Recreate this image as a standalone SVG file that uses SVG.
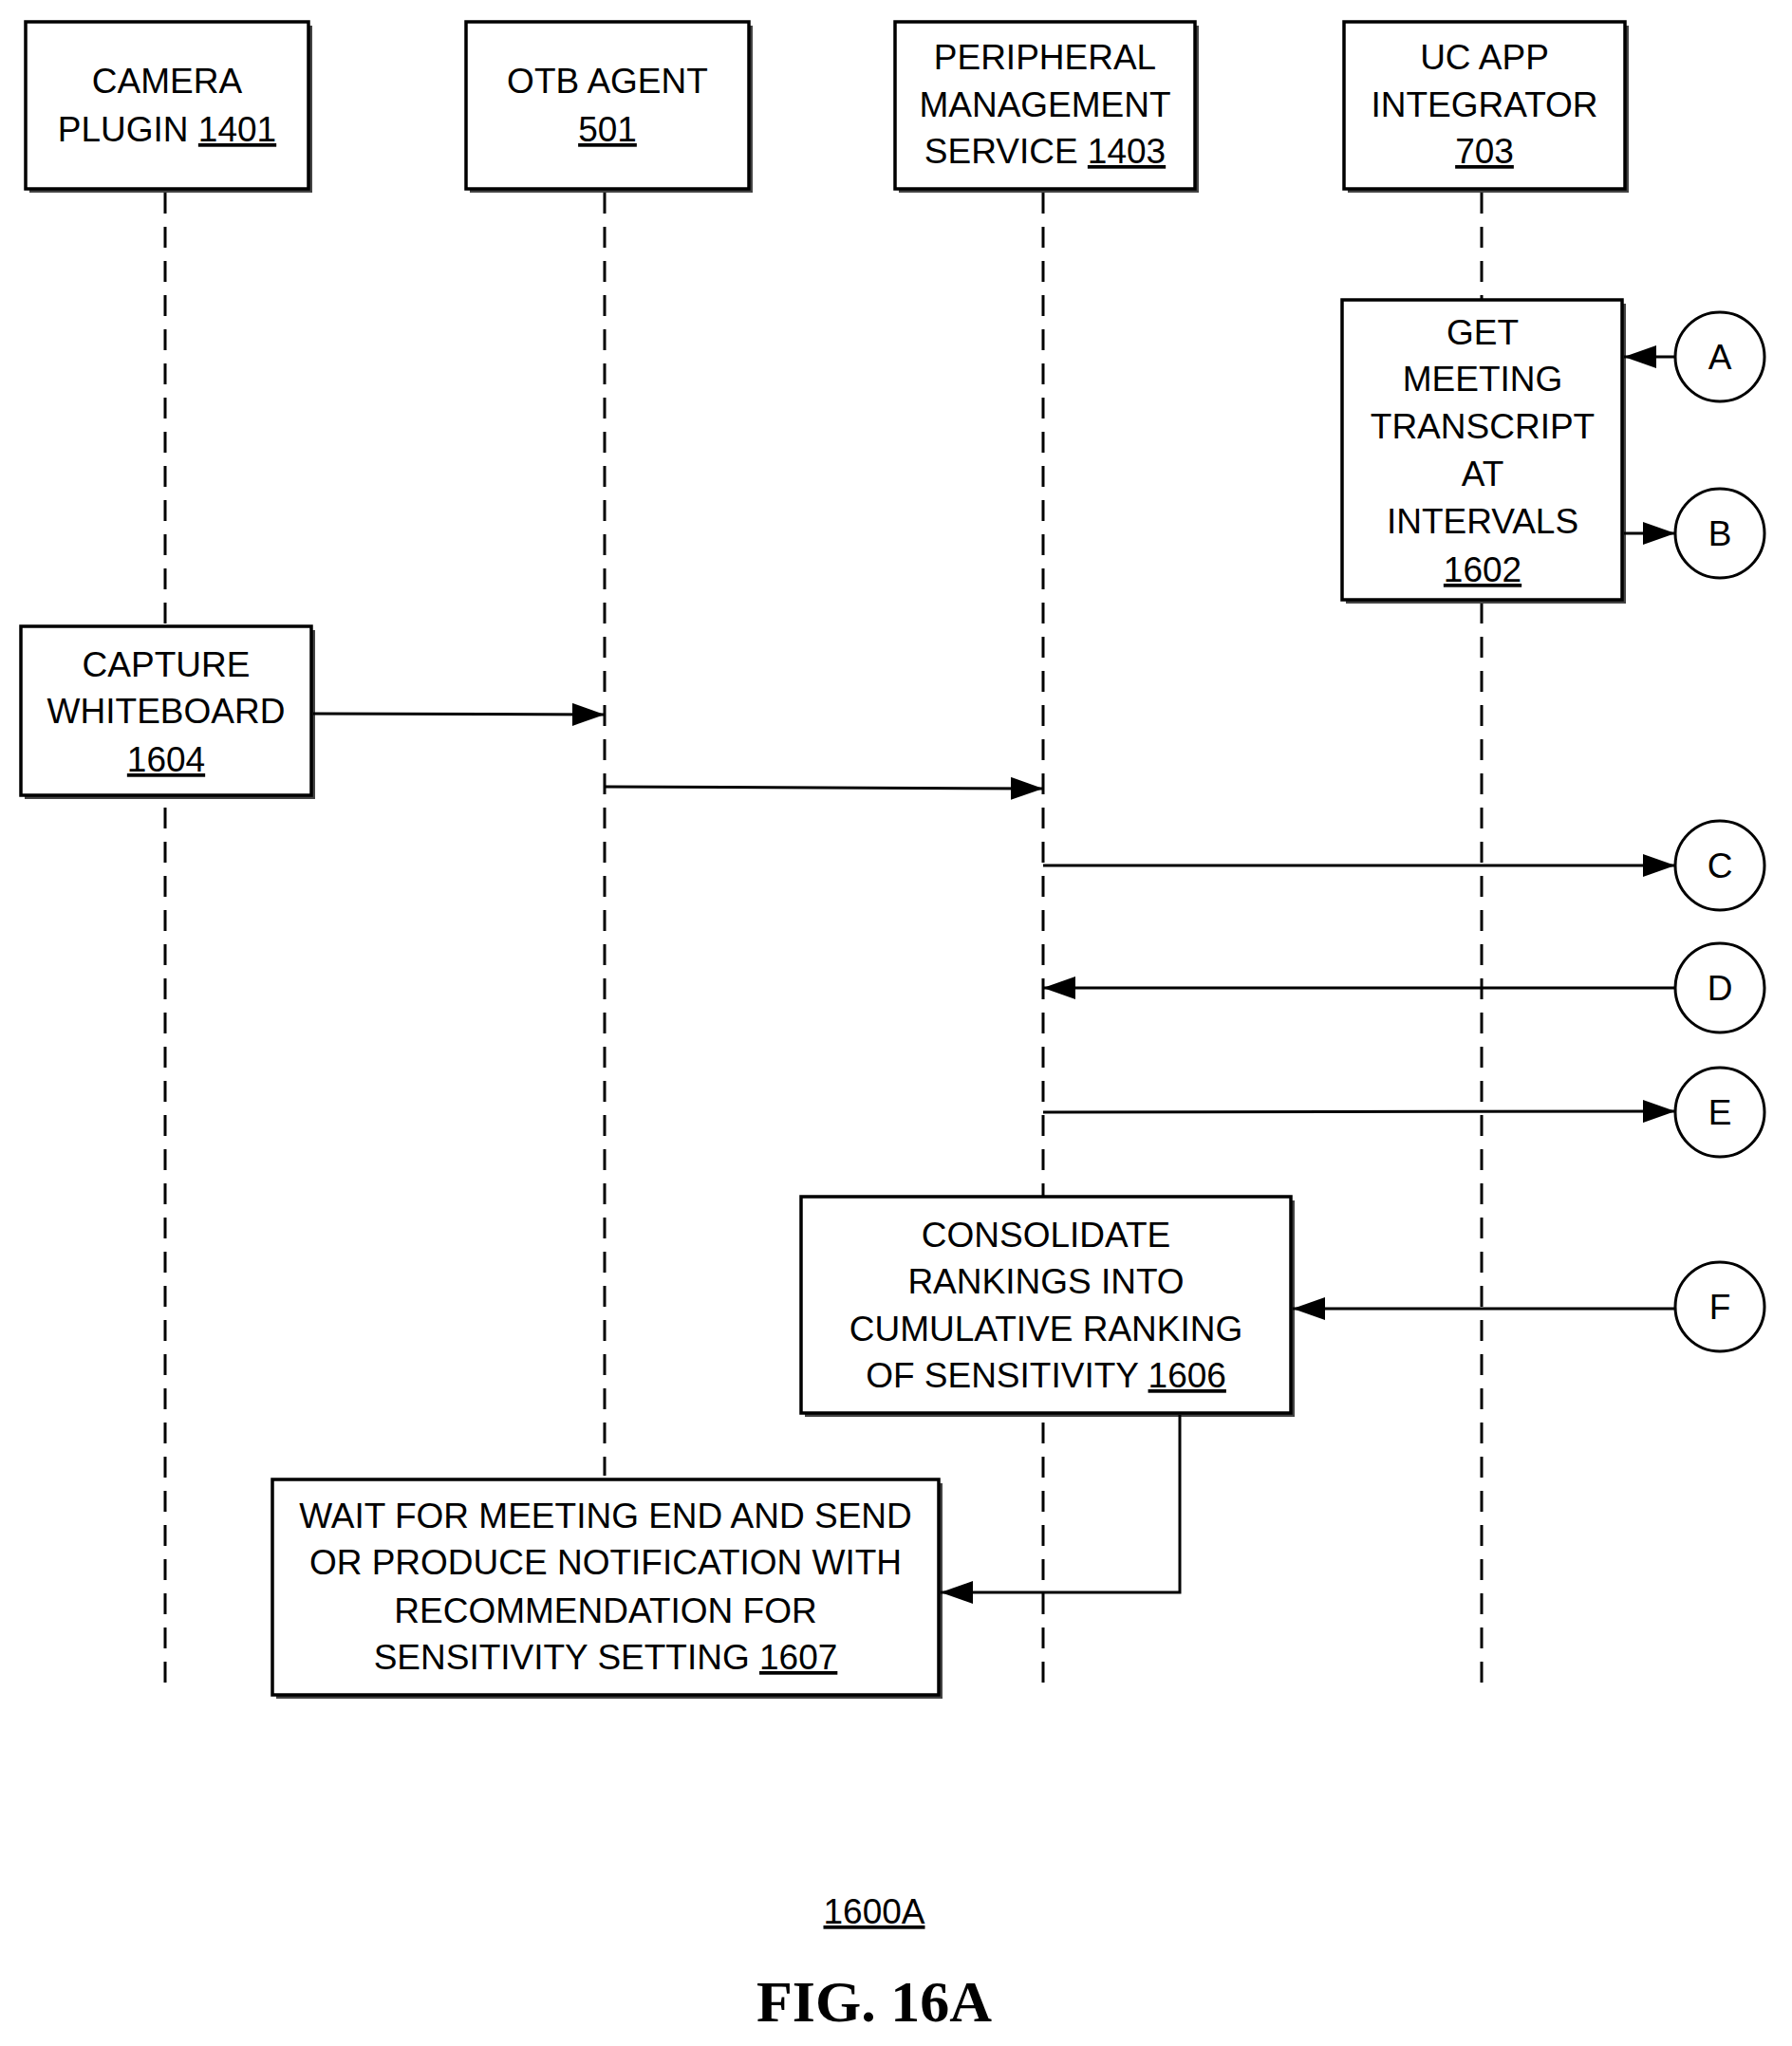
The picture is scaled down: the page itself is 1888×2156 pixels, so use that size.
<svg xmlns="http://www.w3.org/2000/svg" width="1888" height="2156" viewBox="0 0 1888 2156">
<style>
.t{font-family:"Liberation Sans",Arial,sans-serif;font-size:37px;text-anchor:middle;fill:#000}
.u{text-decoration:underline}
.box{fill:#fff;stroke:#000;stroke-width:3.5}
.sh{fill:#444}
.ll{stroke:#000;stroke-width:3;stroke-dasharray:22,14;fill:none}
.c{stroke:#000;stroke-width:3;fill:none}
.circ{fill:#fff;stroke:#000;stroke-width:3}
</style>
<defs>
<marker id="ah" markerWidth="10" markerHeight="8" refX="10" refY="4" orient="auto" markerUnits="userSpaceOnUse" viewBox="0 0 10 8">
<path d="M0,0 L10,4 L0,8 z" fill="#000"/>
</marker>
<marker id="a" viewBox="0 0 34 24" refX="34" refY="12" markerWidth="34" markerHeight="24" orient="auto" markerUnits="userSpaceOnUse"><path d="M0,0 L34,12 L0,24 z" fill="#000"/></marker>
</defs>
<g id="lifelines">
<line class="ll" x1="174" y1="203" x2="174" y2="1784"/>
<line class="ll" x1="637" y1="203" x2="637" y2="1555"/>
<line class="ll" x1="1099" y1="203" x2="1099" y2="1784"/>
<line class="ll" x1="1561" y1="203" x2="1561" y2="1784"/>
</g>
<g id="camera"><rect class="sh" x="31" y="27" width="298" height="176"/><rect class="box" x="27" y="23" width="298" height="176"/>
<text class="t" x="176" y="98">CAMERA</text><text class="t" x="176" y="149">PLUGIN <tspan class="u">1401</tspan></text></g>
<g id="otb"><rect class="sh" x="495" y="27" width="298" height="176"/><rect class="box" x="491" y="23" width="298" height="176"/>
<text class="t" x="640" y="98">OTB AGENT</text><text class="t" x="640" y="149"><tspan class="u">501</tspan></text></g>
<g id="pms"><rect class="sh" x="947" y="27" width="316" height="176"/><rect class="box" x="943" y="23" width="316" height="176"/>
<text class="t" x="1101" y="73">PERIPHERAL</text><text class="t" x="1101" y="123">MANAGEMENT</text><text class="t" x="1101" y="172">SERVICE <tspan class="u">1403</tspan></text></g>
<g id="uc"><rect class="sh" x="1420" y="27" width="296" height="176"/><rect class="box" x="1416" y="23" width="296" height="176"/>
<text class="t" x="1564" y="73">UC APP</text><text class="t" x="1564" y="123">INTEGRATOR</text><text class="t" x="1564" y="172"><tspan class="u">703</tspan></text></g>
<g id="get"><rect class="sh" x="1418" y="320" width="295" height="316"/><rect class="box" x="1414" y="316" width="295" height="316"/>
<text class="t" x="1562" y="363">GET</text><text class="t" x="1562" y="412">MEETING</text><text class="t" x="1562" y="462">TRANSCRIPT</text><text class="t" x="1562" y="512">AT</text><text class="t" x="1562" y="562">INTERVALS</text><text class="t" x="1562" y="613"><tspan class="u">1602</tspan></text></g>
<g id="capture"><rect class="sh" x="26" y="664" width="306" height="178"/><rect class="box" x="22" y="660" width="306" height="178"/>
<text class="t" x="175" y="713">CAPTURE</text><text class="t" x="175" y="762">WHITEBOARD</text><text class="t" x="175" y="813"><tspan class="u">1604</tspan></text></g>
<g id="consolidate"><rect class="sh" x="848" y="1265" width="516" height="228"/><rect class="box" x="844" y="1261" width="516" height="228"/>
<text class="t" x="1102" y="1314">CONSOLIDATE</text><text class="t" x="1102" y="1363">RANKINGS INTO</text><text class="t" x="1102" y="1413">CUMULATIVE RANKING</text><text class="t" x="1102" y="1462">OF SENSITIVITY <tspan class="u">1606</tspan></text></g>
<g id="wait"><rect class="sh" x="291" y="1563" width="702" height="227"/><rect class="box" x="287" y="1559" width="702" height="227"/>
<text class="t" x="638" y="1610">WAIT FOR MEETING END AND SEND</text><text class="t" x="638" y="1659">OR PRODUCE NOTIFICATION WITH</text><text class="t" x="638" y="1710">RECOMMENDATION FOR</text><text class="t" x="638" y="1759">SENSITIVITY SETTING <tspan class="u">1607</tspan></text></g>
<g id="circles">
<circle class="circ" cx="1812" cy="376" r="47"/><text class="t" x="1812" y="389">A</text>
<circle class="circ" cx="1812" cy="562" r="47"/><text class="t" x="1812" y="575">B</text>
<circle class="circ" cx="1812" cy="912" r="47"/><text class="t" x="1812" y="925">C</text>
<circle class="circ" cx="1812" cy="1041" r="47"/><text class="t" x="1812" y="1054">D</text>
<circle class="circ" cx="1812" cy="1172" r="47"/><text class="t" x="1812" y="1185">E</text>
<circle class="circ" cx="1812" cy="1377" r="47"/><text class="t" x="1812" y="1390">F</text>
</g>
<g id="connectors">
<line class="c" x1="1765" y1="376" x2="1711" y2="376" marker-end="url(#a)"/>
<line class="c" x1="1711" y1="562" x2="1765" y2="562" marker-end="url(#a)"/>
<line class="c" x1="330" y1="752" x2="637" y2="753" marker-end="url(#a)"/>
<line class="c" x1="637" y1="829" x2="1099" y2="831" marker-end="url(#a)"/>
<line class="c" x1="1099" y1="912" x2="1765" y2="912" marker-end="url(#a)"/>
<line class="c" x1="1765" y1="1041" x2="1099" y2="1041" marker-end="url(#a)"/>
<line class="c" x1="1099" y1="1172" x2="1765" y2="1171" marker-end="url(#a)"/>
<line class="c" x1="1765" y1="1379" x2="1362" y2="1379" marker-end="url(#a)"/>
<polyline class="c" points="1243,1491 1243,1678 991,1678" marker-end="url(#a)"/>
</g>
<text class="t" x="921" y="2027"><tspan class="u">1600A</tspan></text>
<text x="921" y="2130" style="font-family:'Liberation Serif','Times New Roman',serif;font-weight:bold;font-size:62px;text-anchor:middle">FIG. 16A</text>
</svg>
